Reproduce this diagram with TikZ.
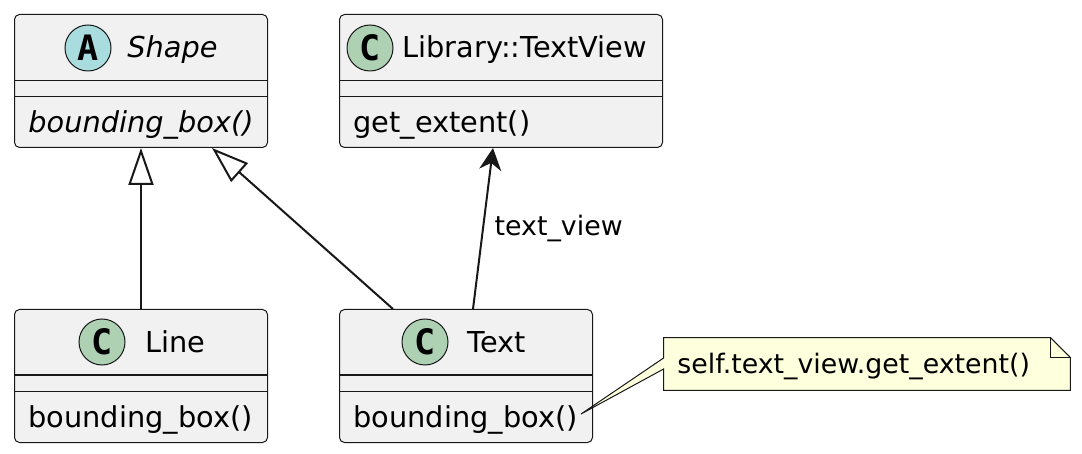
\documentclass[tikz,border=0pt]{standalone}
\usepackage{fontspec}
\setmainfont{DejaVu Sans}
\newfontfamily\spotfont{DejaVu Sans Mono}
\usetikzlibrary{arrows.meta,
                positioning}
\definecolor{boxfill}{HTML}{F1F1F1}
\definecolor{edgeline}{HTML}{181818}
\definecolor{classspot}{HTML}{ADD1B2}
\definecolor{abstractspot}{HTML}{A9DCDF}
\definecolor{notefill}{HTML}{FEFFDD}

\begin{document}
\begin{tikzpicture}[
    x=0.5pt, y=-0.5pt,
    font=\fontsize{14.4pt}{17pt}\selectfont,
     klass/.style = {draw=edgeline, fill=boxfill, rounded corners=2.5pt, line width=0.5pt,
                     anchor=north west, minimum width=126.5pt, minimum height=66.5pt, inner sep=0pt},
       sep/.style = {draw=edgeline, line width=0.5pt},
      spot/.style = {circle, draw=edgeline, line width=0.5pt, minimum size=23pt, inner sep=0pt,
                     font=\spotfont\bfseries\fontsize{17.5pt}{17.5pt}\selectfont},
     cname/.style = {anchor=base west, inner sep=0pt},
    member/.style = {anchor=base west, inner sep=0pt},
     small/.style = {font=\fontsize{13.4pt}{16pt}\selectfont},
   extends/.style = {draw=edgeline, line width=1pt, -{Triangle[open, length=18.5pt, width=12.5pt]}},
      uses/.style = {draw=edgeline, line width=1pt, -{Stealth[length=11pt, width=11pt, inset=3.5pt]}},
   notebox/.style = {draw=edgeline, fill=notefill, line width=0.5pt}
                    ]
  \useasboundingbox (0,0) rectangle (1082,454);
  % classes
  \node [klass]  (shape) at (14,14) {};
  \node [klass, minimum width=161.5pt]  (textview) at (339,14) {};
  \node [klass]  (line) at (14,309) {};
  \node [klass]  (text) at (339,309) {};
  %---
  \draw [sep] ([yshift=-33.5pt]shape.north west) -- ([yshift=-33.5pt]shape.north east);
  \draw [sep] ([yshift=-41.5pt]shape.north west) -- ([yshift=-41.5pt]shape.north east);
  \draw [sep] ([yshift=-33.5pt]textview.north west) -- ([yshift=-33.5pt]textview.north east);
  \draw [sep] ([yshift=-41.5pt]textview.north west) -- ([yshift=-41.5pt]textview.north east);
  \draw [sep] ([yshift=-33pt]line.north west) -- ([yshift=-33pt]line.north east);
  \draw [sep] ([yshift=-41pt]line.north west) -- ([yshift=-41pt]line.north east);
  \draw [sep] ([yshift=-33pt]text.north west) -- ([yshift=-33pt]text.north east);
  \draw [sep] ([yshift=-41pt]text.north west) -- ([yshift=-41pt]text.north east);
  % headers
  \node [spot, fill=abstractspot] (shapespot) at (88,48) {A};
  \node [cname] (shapename) at (127,58) {\itshape Shape};
  \node [spot, fill=classspot] (textviewspot) at (370,48) {C};
  \node [cname] (textviewname) at (402,58) {Library::TextView};
  \node [spot, fill=classspot] (linespot) at (102,342) {C};
  \node [cname] (linename) at (145,352) {Line};
  \node [spot, fill=classspot] (textspot) at (425,342) {C};
  \node [cname] (textname) at (467,352) {Text};
  % methods
  \node [member] (shapeop) at (28,133) {\itshape bounding\_box()};
  \node [member] (textviewop) at (353,133) {get\_extent()};
  \node [member] (lineop) at (28,427) {bounding\_box()};
  \node [member] (textop) at (353,427) {bounding\_box()};
  %---
  \draw [extends] (line) -- (shape);
  \draw [extends] ([xshift=27pt]text.north west) -- ([xshift=99pt]shape.south west);
  \draw [uses] ([xshift=67pt]text.north west) -- node[small, midway, right, xshift=2pt] (role) {text\_view} ([xshift=77pt]textview.south west);
  % note
  \node [minimum width=203pt, minimum height=26pt, inner sep=0pt] (note) at (867,364) {};
  \coordinate (notetip) at (581,414);
  \filldraw [notebox] (note.north west) -- ([xshift=-10pt]note.north east) -- ([yshift=-10pt]note.north east)
     -- (note.south east) -- (note.south west) -- ([yshift=-2.5pt]note.west) -- (notetip)
     -- ([yshift=3pt]note.west) -- cycle;
  \draw [notebox, fill=none] ([xshift=-10pt]note.north east) -- ([xshift=-10pt, yshift=-10pt]note.north east)
     -- ([yshift=-10pt]note.north east);
  \node [member, small] (notetext) at (677,373) {self.text\_view.get\_extent()};
\end{tikzpicture}
\end{document}
